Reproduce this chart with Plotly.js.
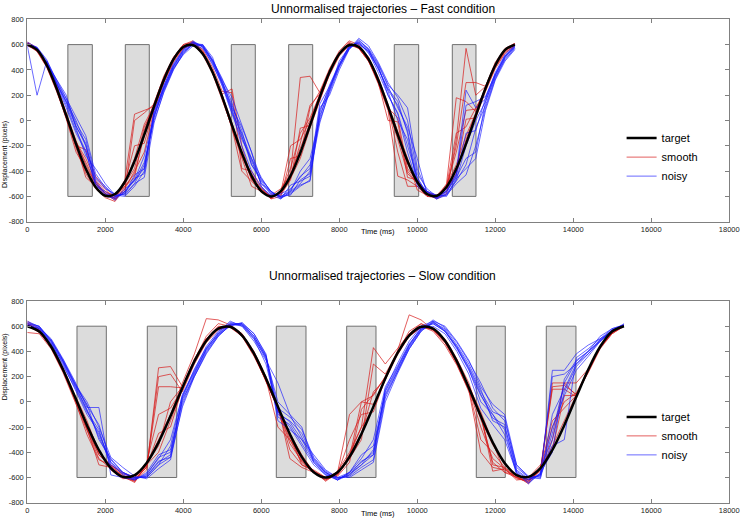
<!DOCTYPE html>
<html>
<head>
<meta charset="utf-8">
<script src="https://cdn.plot.ly/plotly-3.0.1.min.js"></script>
<style>body{margin:0;background:#fff;}#chart{width:740px;height:526px;}</style>
</head>
<body>
<div id="chart"></div>
<script>
// time grids (ms)
var fastTime = [0,250,500,750,1000,1250,1500,1750,2000,2250,2500,2750,3000,3250,3500,3750,4000,4250,4500,4750,5000,5250,5500,5750,6000,6250,6500,6750,7000,7250,7500,7750,8000,8250,8500,8750,9000,9250,9500,9750,10000,10250,10500,10750,11000,11250,11500,11750,12000,12250,12500];
var slowTime = [0,306,612,918,1224,1530,1836,2142,2448,2754,3060,3366,3672,3978,4284,4590,4896,5202,5508,5814,6120,6426,6732,7038,7344,7650,7956,8262,8568,8874,9180,9486,9792,10098,10404,10710,11016,11322,11628,11934,12240,12546,12852,13158,13464,13770,14076,14382,14688,14994,15300];

// target path (same shape in both conditions)
var targetFast = [600,558,437,255,38,-185,-382,-526,-595,-581,-485,-321,-112,112,321,485,581,595,526,382,185,-38,-255,-437,-558,-600,-558,-437,-255,-38,185,382,526,595,581,485,321,112,-112,-321,-485,-581,-595,-526,-382,-185,38,255,437,558,600];
var targetSlow = [600,558,437,255,38,-185,-382,-526,-595,-581,-485,-321,-112,112,321,485,581,595,526,382,185,-38,-255,-437,-558,-600,-558,-437,-255,-38,185,382,526,595,581,485,321,112,-112,-321,-485,-581,-595,-526,-382,-185,38,255,437,558,600];

// occlusion windows (ms)
var occFast = [[1040,1667],[2513,3128],[5231,5846],[6702,7318],[9410,10036],[10898,11505]];
var occSlow = [[1274,2026],[3077,3831],[6385,7146],[8190,8941],[11513,12256],[13308,14069]];

// fast condition - smooth
var smoothFast1 = [610,560,430,250,40,-170,-300,-470,-560,-600,-520,-420,-120,90,300,470,590,610,540,390,200,-20,-260,-420,-540,-600,-580,-460,-300,-60,160,370,520,600,590,500,330,120,-100,-400,-500,-560,-610,-560,-420,-150,50,260,430,550,600];
var smoothFast2 = [620,575,450,280,60,-200,-230,-440,-540,-620,-560,0,60,130,350,500,600,620,560,420,230,220,-380,-400,-520,-620,-600,-300,-280,100,230,410,550,630,600,490,300,0,-10,-450,-470,-580,-620,-580,-150,570,200,270,460,570,610];
var smoothFast3 = [600,545,420,230,20,-220,-420,-540,-610,-640,-520,-450,-80,140,340,500,600,630,550,400,170,-60,-400,-480,-560,-610,-570,-200,-150,0,200,400,540,610,570,470,290,80,-440,-470,-520,-600,-600,-520,-100,-50,100,240,420,540,590];
var smoothFast4 = [590,555,440,270,50,-160,-350,-500,-570,-590,-500,-380,-50,100,310,480,570,600,520,370,160,-50,-280,-460,-570,-590,-540,-420,340,350,220,390,530,600,575,470,310,100,-130,-340,-500,-570,-590,-510,-350,-120,60,270,450,560,600];
var smoothFast5 = [615,570,445,260,30,-190,-450,-520,-600,-610,-470,50,80,110,330,490,585,600,530,380,190,-30,-250,-470,-550,-620,-560,-430,-220,-20,190,380,530,620,580,480,320,110,-250,-520,-520,-600,-610,-500,180,150,70,250,440,560,610];
var smoothFast6 = [605,565,435,245,10,-250,-380,-480,-580,-630,-540,-400,-250,80,300,460,570,610,540,390,200,-70,-300,-520,-560,-600,-590,-470,-60,-40,170,360,510,590,590,500,340,130,-90,-300,-550,-590,-600,-540,-400,10,20,230,410,530,590];
var smoothFast7 = [600,550,425,240,25,-200,-400,-500,-590,-620,-500,-300,-30,120,330,490,590,620,540,380,180,-40,-270,-450,-550,-610,-560,-380,-100,20,200,390,530,610,580,480,300,90,-150,-420,-490,-590,-600,-520,-250,80,90,250,430,550,600];
var smoothFast8 = [610,560,440,260,45,-180,-330,-490,-580,-600,-490,-200,-180,100,320,480,580,600,530,380,210,250,-200,-460,-540,-610,-570,-450,-180,120,210,380,520,600,570,470,310,100,20,-380,-480,-580,-600,-530,-200,300,300,270,440,560,600];

// fast condition - noisy
var noisyFast1 = [600,580,480,310,170,-20,-150,-450,-520,-600,-560,-460,-420,30,250,420,540,600,570,450,270,50,-150,-300,-500,-560,-620,-510,-480,-440,60,280,450,580,620,530,420,230,0,-150,-480,-560,-600,-560,-450,-300,-250,150,360,510,580];
var noisyFast2 = [590,200,470,300,120,-80,-240,-520,-560,-620,-540,-480,-330,0,220,400,530,610,590,460,300,120,-80,-350,-480,-580,-600,-560,-500,-400,100,200,400,560,640,560,400,250,150,-100,-520,-580,-610,-580,-480,-350,-60,120,340,480,570];
var noisyFast3 = [610,570,460,290,150,0,-200,-480,-580,-600,-580,-430,-380,60,280,440,560,620,580,470,310,100,-50,-250,-520,-600,-580,-540,-450,-350,0,220,420,570,620,560,440,270,100,-50,-300,-580,-620,-550,-420,240,100,170,380,520,600];
var noisyFast4 = [620,575,450,320,200,-60,-280,-380,-500,-590,-600,-520,-400,80,260,430,550,600,590,480,330,140,-120,-350,-460,-560,-610,-580,-520,-470,80,250,430,560,650,590,460,300,180,0,-420,-540,-600,-590,-500,-430,-200,100,330,490,570];
var noisyFast5 = [600,565,440,280,100,-100,-250,-500,-600,-610,-570,-470,-280,40,240,410,520,590,600,500,280,80,-200,-400,-530,-590,-620,-560,-400,-300,20,260,440,590,610,540,380,200,50,-250,-500,-560,-590,-600,-470,-200,0,150,350,500,590];
var noisyFast6 = [595,560,455,300,150,-40,-200,-460,-540,-580,-590,-500,-350,20,270,450,560,630,580,440,290,60,-100,-300,-450,-570,-600,-590,-470,-420,-20,240,470,580,600,550,430,200,60,-200,-450,-580,-610,-570,-440,-100,-80,180,360,500,580];
var noisyFast7 = [605,575,470,320,180,30,-120,-420,-530,-600,-580,-500,-450,-20,230,410,530,610,600,480,320,180,-30,-250,-470,-560,-610,-570,-510,-480,40,230,430,570,630,570,450,280,200,100,-380,-560,-620,-590,-460,-380,-300,80,320,470,560];
var noisyFast8 = [600,570,450,300,140,-50,-180,-500,-580,-630,-560,-470,-380,50,260,430,550,620,590,470,300,90,-130,-320,-500,-580,-600,-550,-440,-380,130,270,440,580,610,550,410,240,120,-80,-460,-570,-600,-560,-430,120,150,190,370,510,590];

// slow condition - smooth
var smoothSlow1 = [640,580,440,250,20,-200,-420,-510,-580,-630,-540,270,280,120,330,500,590,600,520,360,170,-60,-300,-480,-560,-620,-580,-420,-200,430,300,420,540,600,560,450,290,90,-400,-520,-540,-600,-620,-550,120,130,60,230,420,540,600];
var smoothSlow2 = [550,540,420,230,0,-230,-450,-530,-600,-620,-500,-300,-100,150,380,660,650,610,540,400,200,-50,-380,-500,-540,-600,-560,-100,0,50,200,400,690,650,570,470,300,80,-120,-480,-560,-600,-640,-520,-300,150,150,260,440,560,600];
var smoothSlow3 = [600,560,430,240,30,-180,-380,-540,-610,-600,-480,-100,-50,100,310,480,580,590,520,370,180,-200,-300,-440,-550,-630,-560,-440,0,-20,170,370,520,590,590,490,320,100,-300,-400,-520,-590,-600,-500,-380,50,50,240,430,560,610];
var smoothSlow4 = [620,570,450,270,50,-150,-400,-500,-570,-610,-520,200,220,80,300,470,570,600,540,390,190,-30,-450,-520,-560,-610,-590,-480,-60,60,200,380,540,620,580,480,310,120,-100,-550,-530,-620,-610,-540,100,100,40,250,440,550,600];
var smoothSlow5 = [610,550,440,260,40,-210,-500,-520,-590,-640,-490,-350,0,120,340,500,600,590,530,370,170,-60,-260,-500,-550,-600,-570,-420,-250,80,180,390,530,600,570,480,330,120,-80,-320,-560,-580,-620,-520,-150,-50,50,250,430,540,600];
var smoothSlow6 = [630,565,435,245,10,-260,-460,-500,-560,-600,-500,-400,-150,100,320,500,590,610,530,380,160,-40,-250,-420,-560,-620,-550,-400,-200,-50,190,380,520,590,580,500,340,150,-140,-340,-500,-590,-650,-530,-350,-150,60,260,440,560,600];
var smoothSlow7 = [600,555,430,250,25,-190,-400,-520,-600,-630,-510,-250,-200,110,320,490,590,600,530,380,170,-50,-330,-470,-550,-610,-570,-300,-100,-80,180,380,530,600,580,490,320,110,-200,-450,-530,-600,-630,-530,-200,0,70,250,430,550,600];
var smoothSlow8 = [620,560,440,260,30,-220,-420,-510,-590,-620,-520,120,120,110,330,520,620,600,530,380,180,-50,-280,-460,-560,-600,-580,-450,-300,300,220,390,560,620,570,470,310,100,-100,-500,-520,-610,-630,-540,150,150,50,240,430,550,600];

// slow condition - noisy
var noisySlow1 = [620,590,500,340,160,-45,-45,-580,-600,-620,-560,-420,-380,0,220,420,550,640,600,480,330,150,-100,-200,-480,-580,-620,-560,-480,-400,100,300,480,600,640,560,420,260,0,-100,-220,-580,-620,-580,200,220,300,400,520,580,610];
var noisySlow2 = [630,600,480,320,130,-20,-300,-450,-560,-610,-590,-480,-420,20,200,380,520,610,620,520,360,-100,-150,-250,-450,-560,-610,-580,-500,-420,50,240,420,560,630,580,450,300,100,-150,-200,-520,-600,-590,250,250,380,450,500,560,620];
var noisySlow3 = [610,580,470,300,100,-100,-240,-500,-570,-600,-600,-500,-350,60,250,440,560,620,600,500,300,-80,-200,-350,-500,-580,-600,-560,-450,-300,120,280,460,580,600,540,400,220,-50,-180,-300,-560,-650,-560,-400,180,330,400,480,570,600];
var noisySlow4 = [600,585,490,330,140,0,-200,-440,-520,-590,-610,-530,-460,-20,210,400,530,600,630,540,380,-150,-220,-300,-420,-540,-600,-590,-520,-460,30,230,440,570,650,590,470,320,150,-50,-150,-500,-590,-600,-300,80,280,380,480,560,600];
var noisySlow5 = [640,595,460,310,120,-60,-280,-480,-580,-620,-570,-450,-300,50,240,420,540,630,610,510,340,-120,-180,-330,-480,-570,-620,-560,-420,-350,80,260,450,590,620,560,430,250,50,-100,-260,-550,-620,-570,-200,50,250,360,480,570,600];
var noisySlow6 = [600,570,460,290,110,-80,-220,-520,-600,-610,-580,-440,-400,40,260,430,540,610,610,500,350,0,-100,-280,-460,-560,-610,-570,-500,-380,60,250,430,570,620,560,440,280,80,-80,-120,-540,-610,-580,-350,-300,350,420,500,580,610];
var noisySlow7 = [620,600,490,330,150,-30,-180,-480,-560,-600,-600,-500,-440,-40,200,390,520,610,620,540,370,-50,-120,-220,-440,-550,-600,-600,-540,-480,0,220,420,560,640,600,480,330,120,-20,-100,-500,-600,-610,-100,100,300,380,490,570,610];
var noisySlow8 = [610,580,480,320,140,-70,-260,-460,-560,-600,-590,-470,-440,30,230,410,530,620,620,520,360,-80,-160,-300,-470,-560,-620,-580,-470,-420,90,270,450,580,630,570,430,270,60,-130,-180,-560,-640,-570,-250,150,320,400,490,560,600];

var yTicks = [-800,-600,-400,-200,0,200,400,600,800];
var yTickText = ['-800','-600','-400','-200','0','200','400','600','800'];
var xTicks = [0,2000,4000,6000,8000,10000,12000,14000,16000,18000];
var xTickText = ['0','2000','4000','6000','8000','10000','12000','14000','16000','18000'];

var RED = 'rgba(215,25,25,0.7)';
var BLUE = 'rgba(25,25,255,0.65)';
var traces = [];

function addPanel(t, target, smooth, noisy, xa, ya, leg) {
  smooth.forEach(function (y, i) {
    traces.push({x: t, y: y, xaxis: xa, yaxis: ya, type: 'scatter', mode: 'lines',
      name: 'smooth', legend: leg, legendgroup: leg + 's', legendrank: 2, showlegend: i === 0,
      line: {color: RED, width: 1}});
  });
  noisy.forEach(function (y, i) {
    traces.push({x: t, y: y, xaxis: xa, yaxis: ya, type: 'scatter', mode: 'lines',
      name: 'noisy', legend: leg, legendgroup: leg + 'n', legendrank: 3, showlegend: i === 0,
      line: {color: BLUE, width: 1}});
  });
  traces.push({x: t, y: target, xaxis: xa, yaxis: ya, type: 'scatter', mode: 'lines',
    name: 'target', legend: leg, legendrank: 1,
    line: {color: '#000', width: 2.5, shape: 'spline'}});
}

addPanel(fastTime, targetFast,
  [smoothFast1, smoothFast2, smoothFast3, smoothFast4, smoothFast5, smoothFast6, smoothFast7, smoothFast8],
  [noisyFast1, noisyFast2, noisyFast3, noisyFast4, noisyFast5, noisyFast6, noisyFast7, noisyFast8], 'x', 'y', 'legend');
addPanel(slowTime, targetSlow,
  [smoothSlow1, smoothSlow2, smoothSlow3, smoothSlow4, smoothSlow5, smoothSlow6, smoothSlow7, smoothSlow8],
  [noisySlow1, noisySlow2, noisySlow3, noisySlow4, noisySlow5, noisySlow6, noisySlow7, noisySlow8], 'x2', 'y2', 'legend2');

var shapes = [];
occFast.forEach(function (r) {
  shapes.push({type: 'rect', xref: 'x', yref: 'y', x0: r[0], x1: r[1], y0: -600, y1: 600,
    fillcolor: '#dcdcdc', line: {color: '#707070', width: 1}, layer: 'below'});
});
occSlow.forEach(function (r) {
  shapes.push({type: 'rect', xref: 'x2', yref: 'y2', x0: r[0], x1: r[1], y0: -600, y1: 600,
    fillcolor: '#dcdcdc', line: {color: '#707070', width: 1}, layer: 'below'});
});

var SANS = 'Liberation Sans, Arial, sans-serif';
var tickFont = {family: SANS, size: 7.5, color: '#222'};
function xAxis(anchor) {
  return {domain: [0.0369, 0.9855], anchor: anchor, range: [0, 18000], tickvals: xTicks, ticktext: xTickText,
    showline: true, linecolor: '#808080', mirror: 'ticks', ticks: 'inside', ticklen: 4,
    tickcolor: '#808080', showgrid: false, zeroline: false, tickfont: tickFont,
    ticklabeloverflow: 'allow'};
}
function yAxis(anchor, dom) {
  return {domain: dom, anchor: anchor, range: [-800, 800], tickvals: yTicks, ticktext: yTickText,
    showline: true, linecolor: '#808080', mirror: 'ticks', ticks: 'inside', ticklen: 4,
    tickcolor: '#808080', showgrid: false, zeroline: false, tickfont: tickFont,
    ticklabeloverflow: 'allow', ticklabelstandoff: 1};
}

var titleFont = {family: SANS, size: 12, color: '#000'};
var smallFont = {family: SANS, size: 7.5, color: '#000'};
var yTitleFont = {family: SANS, size: 7, color: '#000'};
var legFont = {family: SANS, size: 11, color: '#000'};

var layout = {
  width: 740, height: 526,
  margin: {l: 0, r: 0, t: 0, b: 0},
  paper_bgcolor: '#fff', plot_bgcolor: '#fff',
  showlegend: true,
  xaxis: xAxis('y'),
  yaxis: yAxis('x', [0.5785, 0.9633]),
  xaxis2: xAxis('y2'),
  yaxis2: yAxis('x2', [0.0443, 0.4278]),
  shapes: shapes,
  legend: {x: 0.84, y: 0.765, xanchor: 'left', yanchor: 'top', bgcolor: 'rgba(0,0,0,0)',
    font: legFont, tracegroupgap: 0, itemwidth: 30},
  legend2: {x: 0.84, y: 0.235, xanchor: 'left', yanchor: 'top', bgcolor: 'rgba(0,0,0,0)',
    font: legFont, tracegroupgap: 0, itemwidth: 30},
  annotations: [
    {text: 'Unnormalised trajectories \u2013 Fast condition', xref: 'paper', yref: 'paper',
      x: 0.517, y: 1, yanchor: 'top', showarrow: false, font: titleFont},
    {text: 'Unnormalised trajectories \u2013 Slow condition', xref: 'paper', yref: 'paper',
      x: 0.517, y: 0.475, yanchor: 'middle', showarrow: false, font: titleFont},
    {text: 'Time (ms)', xref: 'paper', yref: 'paper', x: 0.511, y: 0.559,
      yanchor: 'middle', showarrow: false, font: smallFont},
    {text: 'Time (ms)', xref: 'paper', yref: 'paper', x: 0.511, y: 0.024,
      yanchor: 'middle', showarrow: false, font: smallFont},
    {text: 'Displacement (pixels)', xref: 'paper', yref: 'paper', x: 0, xanchor: 'left', y: 0.771,
      textangle: -90, showarrow: false, font: yTitleFont, borderpad: 0},
    {text: 'Displacement (pixels)', xref: 'paper', yref: 'paper', x: 0, xanchor: 'left', y: 0.236,
      textangle: -90, showarrow: false, font: yTitleFont, borderpad: 0}
  ]
};

Plotly.newPlot('chart', traces, layout, {displayModeBar: false, staticPlot: true});
</script>
</body>
</html>
